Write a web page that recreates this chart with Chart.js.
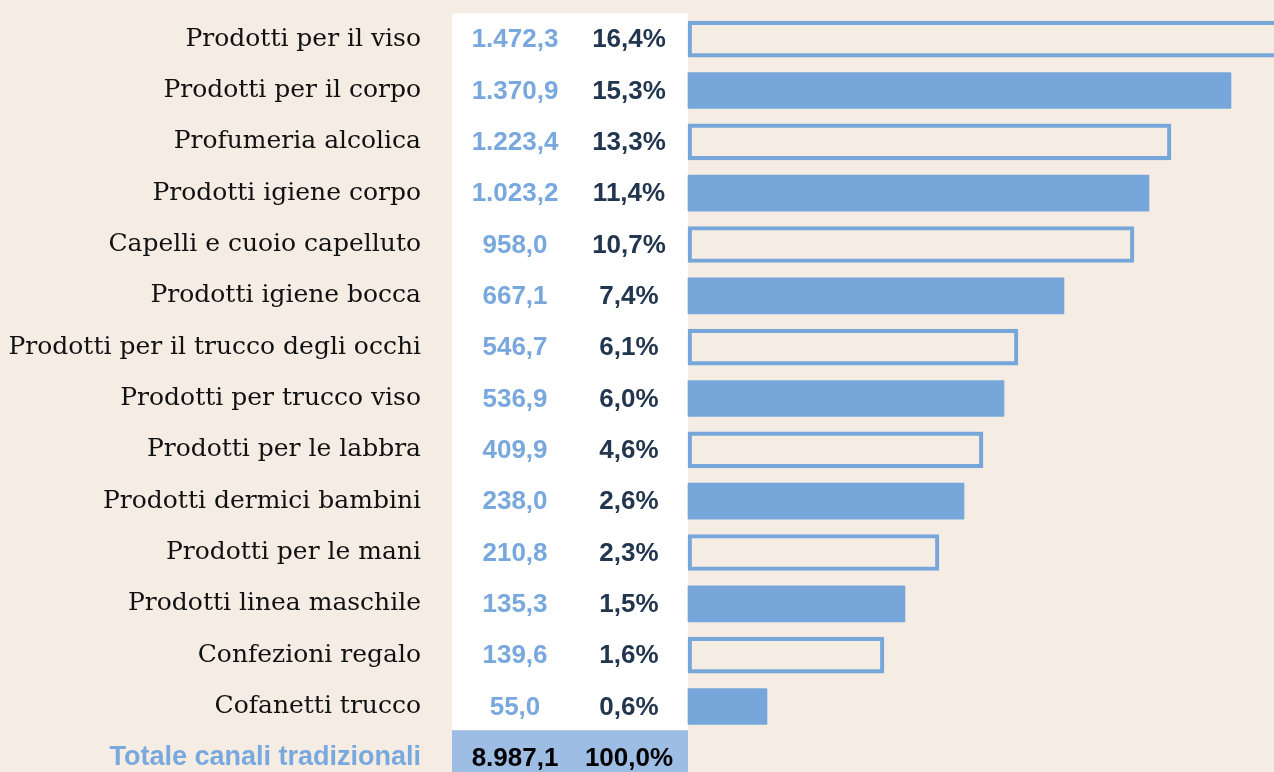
<!DOCTYPE html>
<html>
<head>
<meta charset="utf-8">
<script src="https://cdn.jsdelivr.net/npm/chart.js@4.4.1/dist/chart.umd.min.js"></script>
<style>
  html, body { margin: 0; padding: 0; background: #f5ede4; overflow: hidden; }
  #wrap { width: 1274px; height: 796px; }
</style>
</head>
<body>
<div id="wrap"><canvas id="chart"></canvas></div>
<script>
// categorie e valori (milioni di euro), quota sul totale
var categorie = ['Prodotti per il viso', 'Prodotti per il corpo', 'Profumeria alcolica', 'Prodotti igiene corpo',
  'Capelli e cuoio capelluto', 'Prodotti igiene bocca', 'Prodotti per il trucco degli occhi', 'Prodotti per trucco viso',
  'Prodotti per le labbra', 'Prodotti dermici bambini', 'Prodotti per le mani', 'Prodotti linea maschile',
  'Confezioni regalo', 'Cofanetti trucco', 'Totale canali tradizionali']
var valori = ['1.472,3', '1.370,9', '1.223,4', '1.023,2', '958,0', '667,1', '546,7', '536,9', '409,9', '238,0',
  '210,8', '135,3', '139,6', '55,0', '8.987,1']
var quote = ['16,4%', '15,3%', '13,3%', '11,4%', '10,7%', '7,4%', '6,1%', '6,0%', '4,6%', '2,6%',
  '2,3%', '1,5%', '1,6%', '0,6%', '100,0%']
// lunghezza delle barre come appare nel grafico
var barre = [600, 543, 483, 461, 446, 376, 330, 316, 295, 276, 251, 217, 196, 79, null]

var blu = '#76a6da'
var bluTesto = '#78a8dd'
var navy = '#22364f'
var bluTot = '#9ebde4'
var ultimo = categorie.length - 1

const colonne = {
  id: 'colonne',
  beforeDatasetsDraw(chart) {
    const ctx = chart.ctx
    const y = chart.scales.y
    const x0 = chart.scales.x.getPixelForValue(0)
    const band = (y.bottom - y.top) / categorie.length
    const topTot = y.getPixelForValue(ultimo) - band / 2
    ctx.save()
    ctx.fillStyle = '#ffffff'
    ctx.fillRect(452, y.top, x0 - 452, topTot - y.top)
    ctx.fillStyle = bluTot
    ctx.fillRect(452, topTot - 2, x0 - 452, y.bottom - topTot + 2)
    ctx.font = 'bold 26px "Liberation Sans", Arial, sans-serif'
    ctx.textAlign = 'center'
    ctx.textBaseline = 'middle'
    for (let i = 0; i < categorie.length; i++) {
      const py = y.getPixelForValue(i) + 1
      ctx.fillStyle = i === ultimo ? '#000000' : bluTesto
      ctx.fillText(valori[i], 515, py)
      ctx.fillStyle = i === ultimo ? '#000000' : navy
      ctx.fillText(quote[i], 629, py)
    }
    ctx.restore()
  }
}

const chart = new Chart(document.getElementById('chart'), {
  type: 'bar',
  data: {
    labels: categorie,
    datasets: [{
      data: barre,
      backgroundColor: barre.map((v, i) => i % 2 === 0 ? 'rgba(0,0,0,0)' : blu),
      borderColor: blu,
      borderWidth: barre.map((v, i) => i % 2 === 0 ? 3.5 : 0),
      borderSkipped: false,
      borderRadius: 1,
      barThickness: 36,
      categoryPercentage: 1
    }]
  },
  plugins: [colonne],
  options: {
    indexAxis: 'y',
    responsive: true,
    maintainAspectRatio: false,
    animation: false,
    layout: { padding: { top: 12, right: 0, bottom: 0, left: 0 } },
    plugins: { legend: { display: false }, tooltip: { enabled: false } },
    scales: {
      x: { display: false, min: -267, max: 586 },
      y: {
        grid: { display: false, drawTicks: false },
        border: { display: false },
        afterFit: s => { s.width = 421 },
        ticks: {
          autoSkip: false,
          padding: 0,
          crossAlign: 'near',
          color: c => c.index === ultimo ? bluTesto : '#111111',
          font: c => c.index === ultimo
            ? { family: '"Liberation Sans", Arial, sans-serif', size: 27, weight: 'bold', lineHeight: 1 }
            : { family: '"DejaVu Serif", serif', size: 25, weight: 'normal', lineHeight: 1 }
        }
      }
    }
  }
})
</script>
</body>
</html>
